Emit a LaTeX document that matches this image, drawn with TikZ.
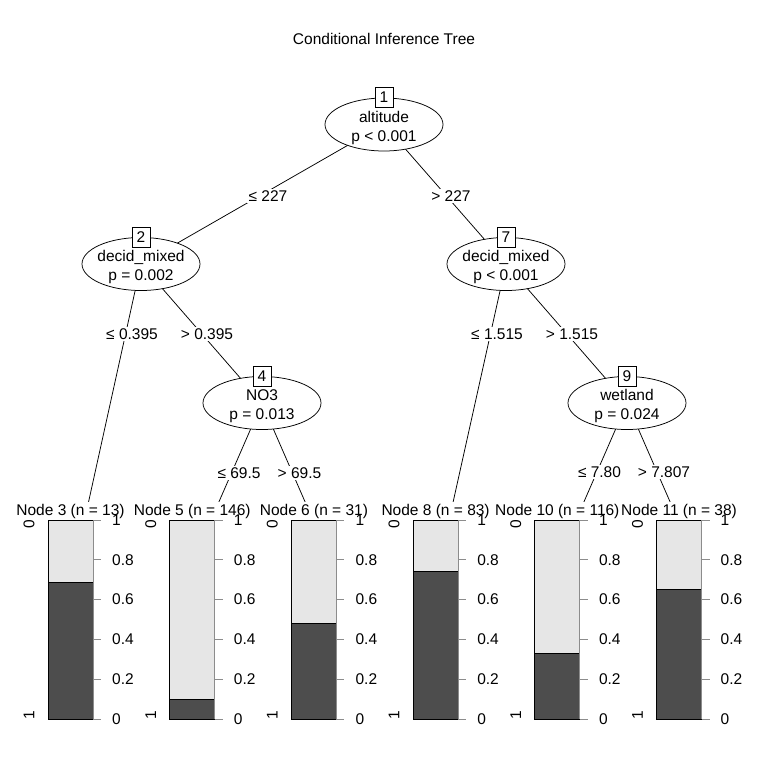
\documentclass[tikz,border=0pt]{standalone}
\usepackage{fontspec}
\setmainfont{Liberation Sans}
\usetikzlibrary{shapes.geometric}
\pgfdeclarelayer{bglayer}
\pgfdeclarelayer{edgelayer}
\pgfsetlayers{bglayer,edgelayer,main}
\definecolor{barlight}{HTML}{E6E6E6}
\definecolor{bardark}{HTML}{4D4D4D}
\definecolor{axisgray}{HTML}{8C8C8C}
\tikzset{
  every node/.style={font=\fontsize{15.5}{19.5}\selectfont},
  innernode/.style={ellipse, draw, line width=0.75pt, fill=white, minimum width=118pt, minimum height=53pt, inner sep=0pt},
  innertext/.style={align=center, inner sep=0pt},
  idbox/.style={draw, line width=0.75pt, fill=white, minimum width=18pt, minimum height=20pt, inner sep=1pt},
  elab/.style={fill=white, inner sep=1.5pt},
  edgeline/.style={draw, line width=0.75pt},
  axisline/.style={draw=axisgray, line width=0.9pt},
  barframe/.style={draw, line width=0.75pt}
}
\newcommand\barpanel[4]{%
  \fill[barlight] (#1,520) rectangle (#1+45,719);
  \fill[bardark] (#1,{719-199*#2}) rectangle (#1+45,719);
  \draw[barframe] (#1,520) rectangle (#1+45,719);
  \draw[barframe] (#1,{719-199*#2}) -- (#1+45,{719-199*#2});
  \draw[axisline] (#1+45,520) -- (#1+45,719);
  \foreach \t [count=\k from 0] in {1,0.8,0.6,0.4,0.2,0} {
    \draw[axisline] (#1+45,{520+39.8*\k}) -- (#1+53,{520+39.8*\k});
    \node[anchor=west, inner sep=0pt] (tk#3-\k) at (#1+64,{520+39.8*\k}) {\t};
  }
  \node[rotate=90, inner sep=0pt] (lo#3) at (#1-19,524) {0};
  \node[rotate=90, inner sep=0pt] (hi#3) at (#1-19,715) {1};
  \node[inner sep=0pt] (lab#3) at (#1+22.5,511) {Node #3 (n = #4)};
}
\begin{document}
\begin{tikzpicture}[x=1pt,y=-1pt]
\useasboundingbox (0,0) rectangle (768,768);
\begin{pgfonlayer}{bglayer}
\fill[white] (0,0) rectangle (768,768);
\end{pgfonlayer}

\node (title) at (384,39) {Conditional Inference Tree};

% inner nodes
\node[innernode] (n1) at (384,124.5) {};
\node[innernode] (n2) at (141,264) {};
\node[innernode] (n4) at (262,403) {};
\node[innernode] (n7) at (506,264) {};
\node[innernode] (n9) at (627,403) {};

\node[innertext] (n1t) at (384,128) {altitude\\p < 0.001};
\node[innertext] (n2t) at (141,267) {decid\_mixed\\p = 0.002};
\node[innertext] (n4t) at (262,406) {NO3\\p = 0.013};
\node[innertext] (n7t) at (506,267) {decid\_mixed\\p < 0.001};
\node[innertext] (n9t) at (627,406) {wetland\\p = 0.024};

\node[idbox] (b1) at (384,97) {1};
\node[idbox] (b2) at (141,237) {2};
\node[idbox] (b4) at (262,376) {4};
\node[idbox] (b7) at (506,237) {7};
\node[idbox] (b9) at (627,376) {9};

% terminal anchors
\coordinate (t3) at (79.5,543);
\coordinate (t5) at (201,543);
\coordinate (t6) at (323,543);
\coordinate (t8) at (444,543);
\coordinate (t10) at (566,543);
\coordinate (t11) at (688,543);

\begin{pgfonlayer}{edgelayer}
\draw[edgeline] (n1.center) -- (n2.center);
\draw[edgeline] (n1.center) -- (n7.center);
\draw[edgeline] (n2.center) -- (t3);
\draw[edgeline] (n2.center) -- (n4.center);
\draw[edgeline] (n4.center) -- (t5);
\draw[edgeline] (n4.center) -- (t6);
\draw[edgeline] (n7.center) -- (t8);
\draw[edgeline] (n7.center) -- (n9.center);
\draw[edgeline] (n9.center) -- (t10);
\draw[edgeline] (n9.center) -- (t11);
\end{pgfonlayer}

% edge labels
\node[elab] (e12) at (268,196) {≤ 227};
\node[elab] (e17) at (451,196) {> 227};
\node[elab] (e23) at (132,334) {≤ 0.395};
\node[elab] (e24) at (207,334) {> 0.395};
\node[elab] (e78) at (497,334) {≤ 1.515};
\node[elab] (e79) at (572,334) {> 1.515};
\node[elab] (e45) at (239,473) {≤ 69.5};
\node[elab] (e46) at (299.5,473) {> 69.5};
\node[elab] (e910) at (599.5,472) {≤ 7.80};
\node[elab] (e911) at (664,472) {> 7.807};

% cover the ends of the connectors under the panels
\fill[white] (0,502) rectangle (768,768);

\barpanel{48}{0.688}{3}{13}
\barpanel{169.7}{0.10}{5}{146}
\barpanel{291.4}{0.482}{6}{31}
\barpanel{413.1}{0.744}{8}{83}
\barpanel{534.8}{0.332}{10}{116}
\barpanel{656.5}{0.653}{11}{38}
\end{tikzpicture}
\end{document}
